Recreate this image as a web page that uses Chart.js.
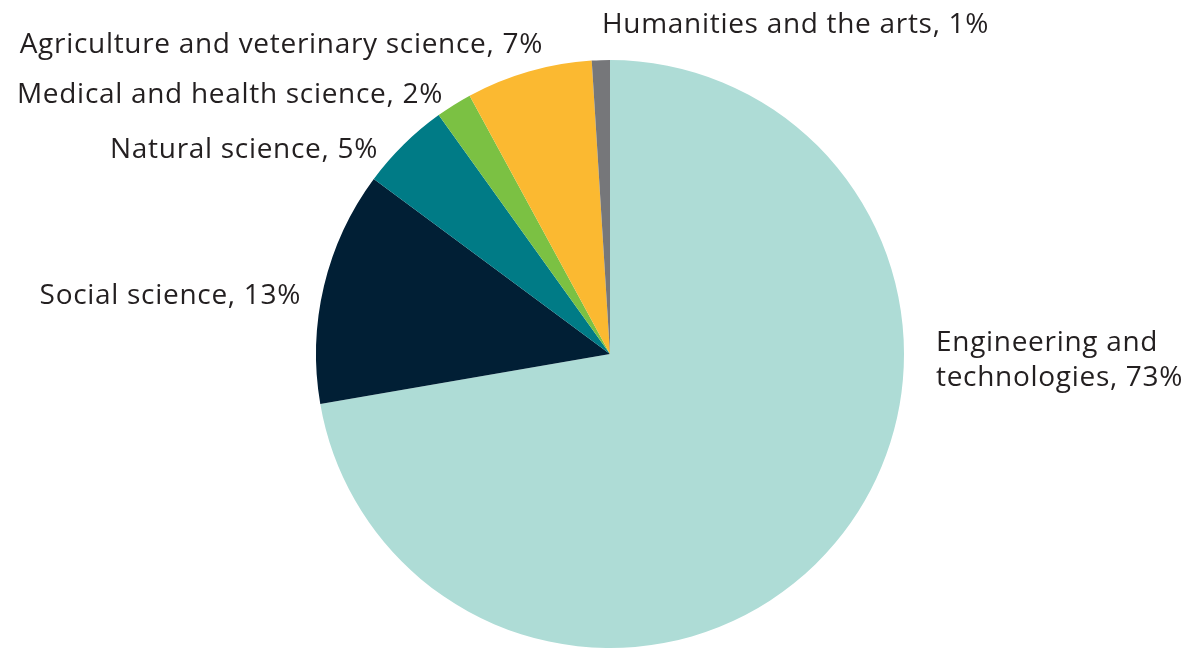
<!DOCTYPE html>
<html>
<head>
<meta charset="utf-8">
<script src="https://cdn.jsdelivr.net/npm/chart.js@4"></script>
<style>
  html, body { margin: 0; padding: 0; background: #fff; }
  #wrap { width: 1198px; height: 648px; position: relative; }
</style>
</head>
<body>
<div id="wrap"><canvas id="fieldPie"></canvas></div>
<script>
// fields of study, clockwise from 12 o'clock
const fields = [
  "Engineering and technologies",
  "Social science",
  "Natural science",
  "Medical and health science",
  "Agriculture and veterinary science",
  "Humanities and the arts"
];
const shares = [73, 13, 5, 2, 7, 1];
const sliceColors = ["#aedcd6", "#011f35", "#007b86", "#7bc143", "#fbb931", "#76777a"];

// where each label sits, as offsets from the pie centre
const labelSpots = [
  { dx: 326, dy: -11, align: "left", lines: ["Engineering and", "technologies, 73%"] },
  { dx: -309, dy: -58, align: "right" },
  { dx: -232, dy: -204, align: "right" },
  { dx: -167, dy: -259, align: "right" },
  { dx: -67, dy: -309, align: "right" },
  { dx: -8, dy: -329, align: "left" }
];

const labelFont = "28px 'Open Sans', sans-serif";

const outsideLabels = {
  id: "outsideLabels",
  afterDraw(chart) {
    const ctx = chart.ctx;
    const arc = chart.getDatasetMeta(0).data[0];
    const cx = arc.x, cy = arc.y;
    ctx.save();
    ctx.font = labelFont;
    ctx.letterSpacing = "0.7px";
    ctx.fillStyle = "#231f20";
    ctx.textBaseline = "middle";
    labelSpots.forEach((spot, i) => {
      const lines = spot.lines || [fields[i] + ", " + shares[i] + "%"];
      ctx.textAlign = spot.align;
      lines.forEach((line, k) => {
        ctx.fillText(line, cx + spot.dx, cy + spot.dy + k * 35);
      });
    });
    ctx.restore();
  }
};

new Chart(document.getElementById("fieldPie"), {
  type: "pie",
  data: {
    labels: fields,
    datasets: [{
      data: shares,
      backgroundColor: sliceColors,
      borderWidth: 0
    }]
  },
  options: {
    responsive: true,
    maintainAspectRatio: false,
    animation: false,
    layout: { padding: { top: 60, bottom: 0, left: 22, right: 0 } },
    plugins: {
      legend: { display: false },
      tooltip: { enabled: false }
    }
  },
  plugins: [outsideLabels]
});
</script>
</body>
</html>
